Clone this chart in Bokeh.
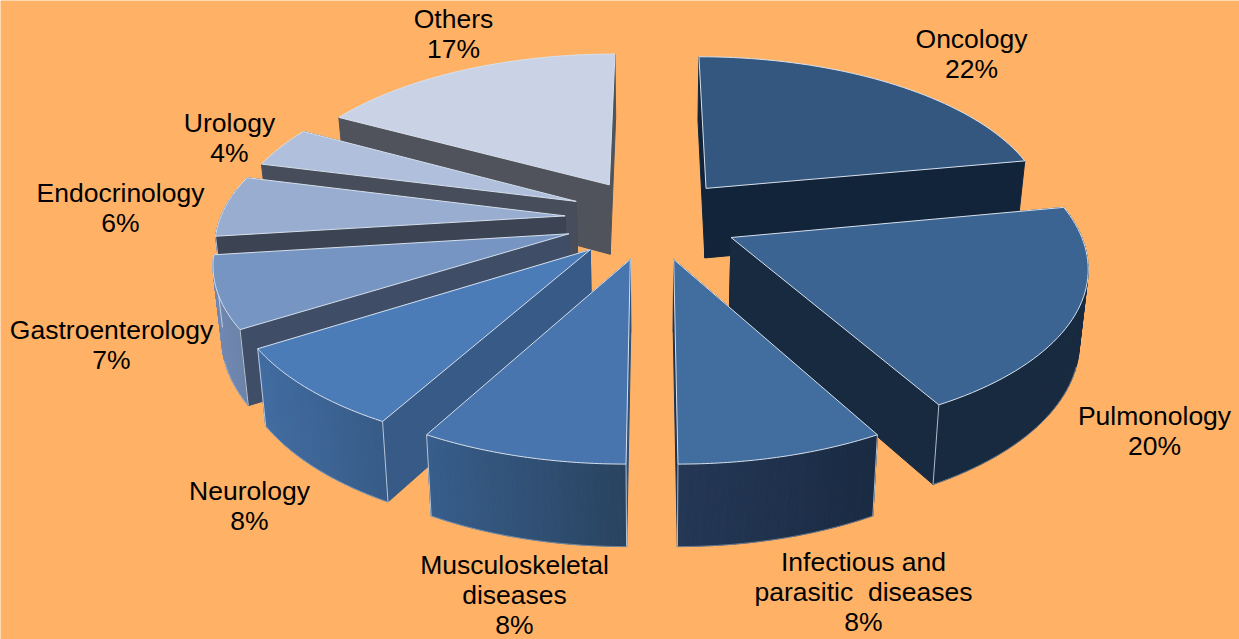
import numpy as np
from bokeh.plotting import figure
from bokeh.core.properties import value
from bokeh.embed import file_html
from bokeh.resources import INLINE

categories = [["Oncology"], ["Pulmonology"], ["Infectious and", "parasitic\u00a0\u00a0diseases"],
              ["Musculoskeletal", "diseases"], ["Neurology"], ["Gastroenterology"],
              ["Endocrinology"], ["Urology"], ["Others"]]
shares = [22, 20, 8, 8, 8, 7, 6, 4, 17]

top_colors = ["#345780", "#3b6492", "#426d9f", "#4875ae", "#4c7cb8", "#7795c2", "#98add0", "#b0c0dc", "#c9d3e5"]
flank_colors = ["#12243a", "#172a40", "#1f3350", "#2e4f78", "#375a86", "#3f4d66", "#3c4352", "#474d5a", "#50535c"]
rim_left = ["#16283e", "#172a40", "#243856", "#385e8c", "#426da2", "#7189b2", "#5c6a85", "#5c6a85", "#5c6a85"]
rim_right = ["#12243a", "#172a40", "#1a2b43", "#29435f", "#365a86", "#6a82a8", "#5c6a85", "#5c6a85", "#5c6a85"]
explode = [0.26, 0.26, 0.26, 0.26, 0.26, 0.26, 0.26, 0.26, 0.26]
shift_x = [0, -2, 0, 3, 3, 4, 4, 8, 3]
shift_y = [0, 0, -2, -2, -1, 0, -1, -3, 0]

# (x, y) of each label's first line centre, in page pixels
label_xy = [(971, 38), (1154, 415), (863, 561), (514, 564), (249, 490), (111, 329), (120, 192), (229, 122), (453, 18)]

BG = "#ffb266"
EDGE = "#d6e0ec"
CX, CY, SX, SY, PERSP, DEPTH, TAPER = 650, 219, 345, 160, 0.15, 71, 0.02


def project(X, Y, drop=0.0):
    w = 1.0 / (1.0 - PERSP * Y)
    x = CX + (SX * X * w) * (1 - TAPER * drop)
    y = CY + (SY * Y * w) * (1 - TAPER * drop) + DEPTH * w * drop
    return x, y


def hex_mix(a, b, t):
    ca = np.array([int(a[i:i + 2], 16) for i in (1, 3, 5)])
    cb = np.array([int(b[i:i + 2], 16) for i in (1, 3, 5)])
    c = np.round(ca + (cb - ca) * t).astype(int)
    return "#%02x%02x%02x" % tuple(c)


p = figure(width=1239, height=639, x_range=(0, 1239), y_range=(639, 0),
           output_backend="svg", toolbar_location=None, min_border=0,
           background_fill_color=BG, border_fill_color=BG, outline_line_color=None)
p.axis.visible = False
p.grid.visible = False

cum = np.cumsum([0] + shares) / sum(shares) * 2 * np.pi
for i in [8, 7, 6, 5, 4, 0, 1, 2, 3]:
    a0, a1 = cum[i], cum[i + 1]
    mid = (a0 + a1) / 2
    ox, oy = explode[i] * np.sin(mid), -explode[i] * np.cos(mid)
    th = np.linspace(a0, a1, 48)
    X, Y = ox + np.sin(th), oy - np.cos(th)

    ax, ay = project(ox, oy)
    bx, by = project(ox, oy, 1)
    tx, ty = project(X, Y)
    ux, uy = project(X, Y, 1)
    dx, dy = shift_x[i], shift_y[i]
    ax, bx, tx, ux = ax + dx, bx + dx, tx + dx, ux + dx
    ay, by, ty, uy = ay + dy, by + dy, ty + dy, uy + dy
    front = np.cos(th) < 0.18

    # slices on the left half show their leading flank, those on the right their trailing one
    near = 0 if a0 >= np.pi - 1e-6 else -1
    far = -1 if near == 0 else 0

    def flank(k):
        p.patch([ax, tx[k], ux[k], bx], [ay, ty[k], uy[k], by], fill_color=flank_colors[i],
                line_color=flank_colors[i], line_width=1)

    flank(far)

    # outer wall, shaded left to right; only the part turned towards the viewer
    lo, hi = min(tx.min(), ux.min()), max(tx.max(), ux.max())
    for k in range(len(th) - 1):
        if not (front[k] and front[k + 1]):
            continue
        t = ((tx[k] + tx[k + 1]) / 2 - lo) / max(hi - lo, 1)
        c = hex_mix(rim_left[i], rim_right[i], t)
        p.patch([tx[k], tx[k + 1], ux[k + 1], ux[k]], [ty[k], ty[k + 1], uy[k + 1], uy[k]],
                fill_color=c, line_color=c, line_width=1)
    bottom = np.cos(th) < -0.3
    if bottom.sum() > 1:
        p.line(ux[bottom], uy[bottom], line_color=EDGE, line_width=1, line_alpha=0.4)

    flank(near)

    # pale seams where a flank meets the wall
    for k in (0, -1):
        if np.cos(th[k]) < 0:
            p.line([tx[k], ux[k]], [ty[k], uy[k]], line_color=EDGE, line_width=1, line_alpha=0.8)

    # top face
    p.patch(np.r_[ax, tx], np.r_[ay, ty], fill_color=top_colors[i], line_color=EDGE, line_width=1)

for lines, share, (lx, ly) in zip(categories, shares, label_xy):
    rows = lines + [f"{share}%"]
    p.text(x=[lx] * len(rows), y=[ly + 30 * r for r in range(len(rows))], text=rows,
           text_font=value("Liberation Sans"), text_font_size="26.5px", text_color="#000000",
           text_align="center", text_baseline="middle")

open("out.html", "w").write(file_html(p, INLINE))
